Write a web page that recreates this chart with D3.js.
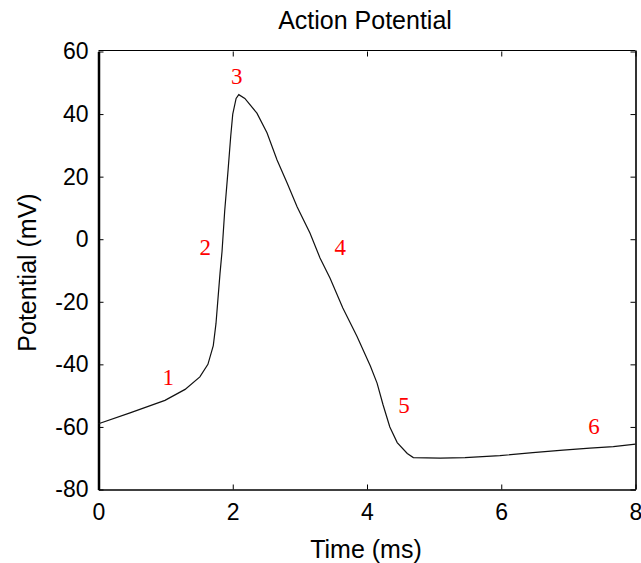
<!DOCTYPE html>
<html>
<head>
<meta charset="utf-8">
<script src="https://cdn.jsdelivr.net/npm/d3@7"></script>
<style>
  body { margin: 0; background: #fff; }
  svg { display: block; }
</style>
</head>
<body>
<svg id="chart"></svg>
<script>
// Time (ms) and membrane potential (mV)
const time = [0, 0.47, 0.99, 1.29, 1.51, 1.63, 1.71, 1.75, 1.78, 1.81, 1.84, 1.88, 1.93, 1.97, 2.0, 2.05, 2.09,
  2.18, 2.36, 2.51, 2.66, 2.81, 2.96, 3.15, 3.30, 3.45, 3.64, 3.85, 4.05, 4.15, 4.24, 4.34, 4.45, 4.60, 4.69,
  5.09, 5.46, 5.98, 6.47, 6.92, 7.32, 7.67, 8.0];
const potential = [-59, -55.5, -51.5, -48, -44, -40, -34, -27, -19, -11, -4, 9, 22, 33, 40, 45, 46.2,
  45, 40.3, 34, 25.3, 18, 10.3, 2, -6, -12.5, -22, -31, -40.5, -46, -53, -60, -65, -68.5, -69.8,
  -70, -69.8, -69.2, -68.2, -67.4, -66.8, -66.3, -65.5];

// phase markers
const phaseLabels = ['1', '2', '3', '4', '5', '6'];
const phaseTime = [1.04, 1.59, 2.06, 3.6, 4.55, 7.38];
const phaseV = [-44.3, -2.8, 51.9, -2.8, -53.2, -59.9];

const xTicks = [0, 2, 4, 6, 8];
const yTicks = [-80, -60, -40, -20, 0, 20, 40, 60];

const width = 641, height = 563;
const margin = { top: 51.5, right: 5.5, bottom: 73.5, left: 98.5 };
const innerWidth = width - margin.left - margin.right;
const innerHeight = height - margin.top - margin.bottom;

const svg = d3.select('#chart').attr('width', width).attr('height', height);
const g = svg.append('g').attr('transform', `translate(${margin.left}, ${margin.top})`);

const x = d3.scaleLinear().domain([0, 8]).range([0, innerWidth]);
const y = d3.scaleLinear().domain([-80, 60]).range([innerHeight, 0]);

const font = 'Liberation Sans, Arial, sans-serif';
const plain = d => String(d); // plain hyphen for negatives, like the original

// box: top and right lines, then the axes
g.append('line').attr('x1', 0).attr('x2', innerWidth).attr('y1', -1).attr('y2', -1)
  .attr('stroke', '#000').attr('stroke-width', 1);
g.append('line').attr('x1', innerWidth + 0.5).attr('x2', innerWidth + 0.5).attr('y1', -1).attr('y2', innerHeight)
  .attr('stroke', '#333').attr('stroke-width', 2);

// inner ticks on top and right (no labels)
g.append('g').call(d3.axisTop(x).tickValues(xTicks).tickSize(-5).tickFormat(''))
  .call(a => a.select('.domain').remove())
  .call(a => a.selectAll('text').remove());
g.append('g').attr('transform', `translate(${innerWidth},0)`)
  .call(d3.axisRight(y).tickValues(yTicks).tickSize(-5).tickFormat(''))
  .call(a => a.select('.domain').remove())
  .call(a => a.selectAll('text').remove());

const xAxis = g.append('g').attr('transform', `translate(0, ${innerHeight})`)
  .call(d3.axisBottom(x).tickValues(xTicks).tickFormat(plain).tickSize(-5).tickPadding(14).tickSizeOuter(0));
xAxis.select('.domain').attr('stroke-width', 1.5);
xAxis.selectAll('text').attr('font-family', font).attr('font-size', 23).attr('fill', '#000');

const yAxis = g.append('g')
  .call(d3.axisLeft(y).tickValues(yTicks).tickFormat(plain).tickSize(-5).tickPadding(10).tickSizeOuter(0));
yAxis.select('.domain').attr('stroke-width', 2.5);
yAxis.selectAll('text').attr('font-family', font).attr('font-size', 23).attr('fill', '#000');

// the trace
const points = time.map((t, i) => [t, potential[i]]);
g.append('path')
  .datum(points)
  .attr('fill', 'none')
  .attr('stroke', '#111')
  .attr('stroke-width', 1.2)
  .attr('d', d3.line().x(d => x(d[0])).y(d => y(d[1])));

// phase numbers
g.selectAll('.phase')
  .data(phaseLabels)
  .enter()
  .append('text')
  .attr('class', 'phase')
  .attr('x', (d, i) => x(phaseTime[i]))
  .attr('y', (d, i) => y(phaseV[i]))
  .attr('text-anchor', 'middle')
  .attr('dominant-baseline', 'central')
  .attr('font-family', 'Liberation Serif, Times New Roman, serif')
  .attr('font-size', 23)
  .attr('fill', '#ff0000')
  .text(d => d);

// title and axis labels
svg.append('text')
  .attr('x', margin.left + innerWidth / 2 - 2)
  .attr('y', 29)
  .attr('text-anchor', 'middle')
  .attr('font-family', font)
  .attr('font-size', 25)
  .text('Action Potential');

svg.append('text')
  .attr('x', margin.left + innerWidth / 2 - 1)
  .attr('y', 558)
  .attr('text-anchor', 'middle')
  .attr('font-family', font)
  .attr('font-size', 25)
  .text('Time (ms)');

svg.append('text')
  .attr('transform', `translate(36, ${margin.top + innerHeight / 2 + 2}) rotate(-90)`)
  .attr('text-anchor', 'middle')
  .attr('font-family', font)
  .attr('font-size', 25)
  .text('Potential (mV)');
</script>
</body>
</html>
